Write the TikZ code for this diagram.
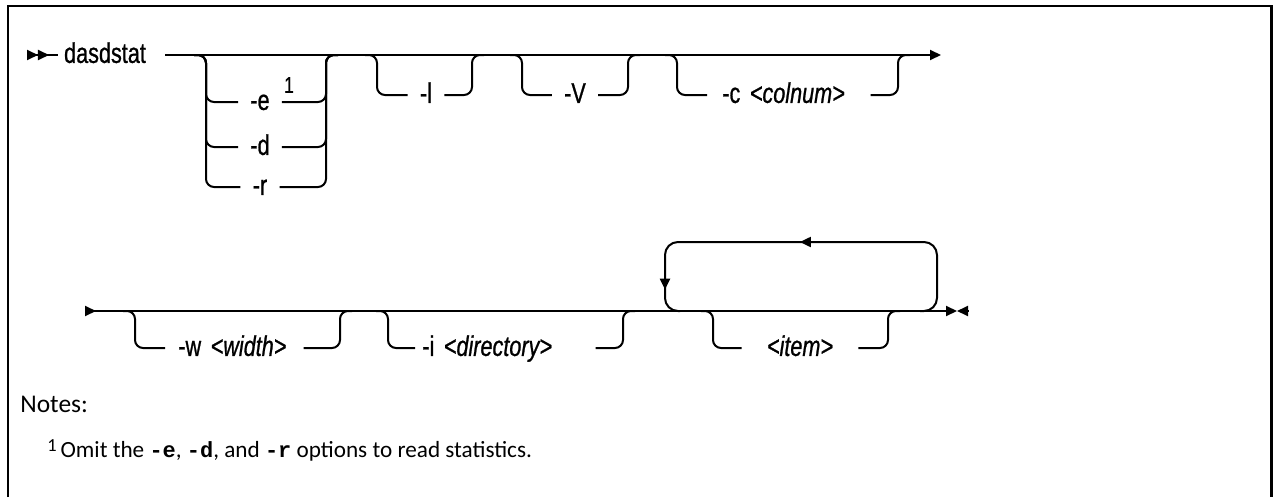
\documentclass[tikz,border=0pt]{standalone}
\usepackage{fontspec}
\setmainfont{Liberation Sans}
\newfontfamily\railfont[FakeStretch=0.76, FakeBold=0.8]{Liberation Sans}
\newfontfamily\notefont{Carlito}
\newfontfamily\codefont{Liberation Mono}
\usepackage{tikz}
\usetikzlibrary{positioning,calc,arrows.meta,decorations.markings}

\tikzset{railtip/.tip={Triangle[length=0.22cm, width=0.2cm]}}

\begin{document}
\begin{tikzpicture}[
			x=0.02cm, y=-0.02cm,
			rail/.style={line width=0.04cm, rounded corners=0.16cm},
			track/.style={line width=0.04cm},
			optbox/.style={inner xsep=0.24cm, inner ysep=0pt, text height=9pt, text depth=0pt,
				font=\railfont\fontsize{16.2}{18}\selectfont},
			notetext/.style={anchor=base west, inner sep=0pt, font=\notefont\fontsize{14.5}{17}\selectfont}
			]
			
			\useasboundingbox (0,0) rectangle (1274,497);
			
			% frame
			\draw[line width=0.06cm] (8,497) -- (8,6) -- (1271,6) -- (1271,497);
			
			% first row
			\coordinate (r1start) at (27,55);
			\node[optbox, inner xsep=0.12cm] (cmd) at (105,55) {dasdstat};
			\coordinate (r1a) at (165,55);
			\coordinate (r1end) at (941,55);
			\draw[track, {railtip[reversed]railtip[reversed]}-] (r1start) -- (cmd.west);
			\draw[track, -{railtip}] (r1a) -- (r1end);
			
			% -e -d -r
			\coordinate (g1in) at (194,55);
			\coordinate (g1out) at (338,55);
			\node[optbox] (optE) at (260,102) {-e};
			\node[optbox, font=\railfont\fontsize{13}{15}\selectfont] (sup1) at (289,85) {1};
			\node[optbox] (optD) at (260,147) {-d};
			\node[optbox] (optR) at (260,187) {-r};
			\foreach \o in {optE,optD,optR} {
				\draw[rail] (g1in) -- ++(12,0) |- (\o.west);
				\draw[rail] (g1out) -- ++(-12,0) |- (\o.east);
			}
			
			% -l
			\coordinate (g2in) at (365,55);
			\coordinate (g2out) at (484,55);
			\node[optbox] (optL) at (426,95) {-l};
			\draw[rail] (g2in) -- ++(12,0) |- (optL.west);
			\draw[rail] (g2out) -- ++(-12,0) |- (optL.east);
			
			% -V
			\coordinate (g3in) at (510,55);
			\coordinate (g3out) at (640,55);
			\node[optbox] (optV) at (575,95) {-V};
			\draw[rail] (g3in) -- ++(12,0) |- (optV.west);
			\draw[rail] (g3out) -- ++(-12,0) |- (optV.east);
			
			% -c <colnum>
			\coordinate (g4in) at (665,55);
			\coordinate (g4out) at (910,55);
			\node[optbox, inner xsep=0.3cm, text width=2.66cm, align=left, anchor=west] (optC) at (707,95) {\mbox{-c \textit{<colnum>}}};
			\draw[rail] (g4in) -- ++(12,0) |- (optC.west);
			\draw[rail] (g4out) -- ++(-12,0) |- (optC.east);
			
			% second row
			\coordinate (r2start) at (85,311);
			\coordinate (r2end) at (957,311);
			\draw[track, {railtip[reversed]}-{railtip}] (r2start) -- (r2end);
			\draw[track, {railtip}-] (r2end) -- ++(11,0);
			
			% -w <width>
			\coordinate (g5in) at (123,311);
			\coordinate (g5out) at (352,311);
			\node[optbox, inner xsep=0.26cm, text width=2.24cm, align=left, anchor=west] (optW) at (165,348) {\mbox{-w \textit{<width>}}};
			\draw[rail] (g5in) -- ++(12,0) |- (optW.west);
			\draw[rail] (g5out) -- ++(-12,0) |- (optW.east);
			
			% -i <directory>
			\coordinate (g6in) at (376,311);
			\coordinate (g6out) at (635,311);
			\node[optbox, inner xsep=0.14cm, text width=3.32cm, align=left, anchor=west] (optI) at (415,348) {\mbox{-i \textit{<directory>}}};
			\draw[rail] (g6in) -- ++(12,0) |- (optI.west);
			\draw[rail] (g6out) -- ++(-12,0) |- (optI.east);
			
			% <item> with repeat loop
			\coordinate (g7in) at (701,311);
			\coordinate (g7out) at (900,311);
			\node[optbox, inner xsep=0.5cm] (optItem) at (800,348) {\textit{<item>}};
			\draw[rail] (g7in) -- ++(12,0) |- (optItem.west);
			\draw[rail] (g7out) -- ++(-12,0) |- (optItem.east);
			
			\coordinate (loopin) at (920,311);
			\coordinate (looptop) at (937,242);
			\coordinate (loopout) at (665,311);
			\draw[rail, rounded corners=0.26cm,
			postaction={decorate},
			decoration={markings,
				mark=at position 4.24cm with {\arrow{railtip}},
				mark=at position 7.78cm with {\arrow{railtip}}}]
			(loopin) -| (looptop) -| (loopout) -- ++(15,0);
			
			% notes
			\node[notetext] (notes) at (20,412) {Notes:};
			\node[notetext, font=\notefont\fontsize{13.2}{16}\selectfont] (note1) at (47,457)
			{\raisebox{0.5ex}{\fontsize{10.5}{12}\selectfont 1}\,Omit the {\codefont\bfseries\fontsize{12.5}{15}\selectfont -e}, {\codefont\bfseries\fontsize{12.5}{15}\selectfont -d}, and {\codefont\bfseries\fontsize{12.5}{15}\selectfont -r} options to read statistics.};
			
		\end{tikzpicture}
\end{document}
